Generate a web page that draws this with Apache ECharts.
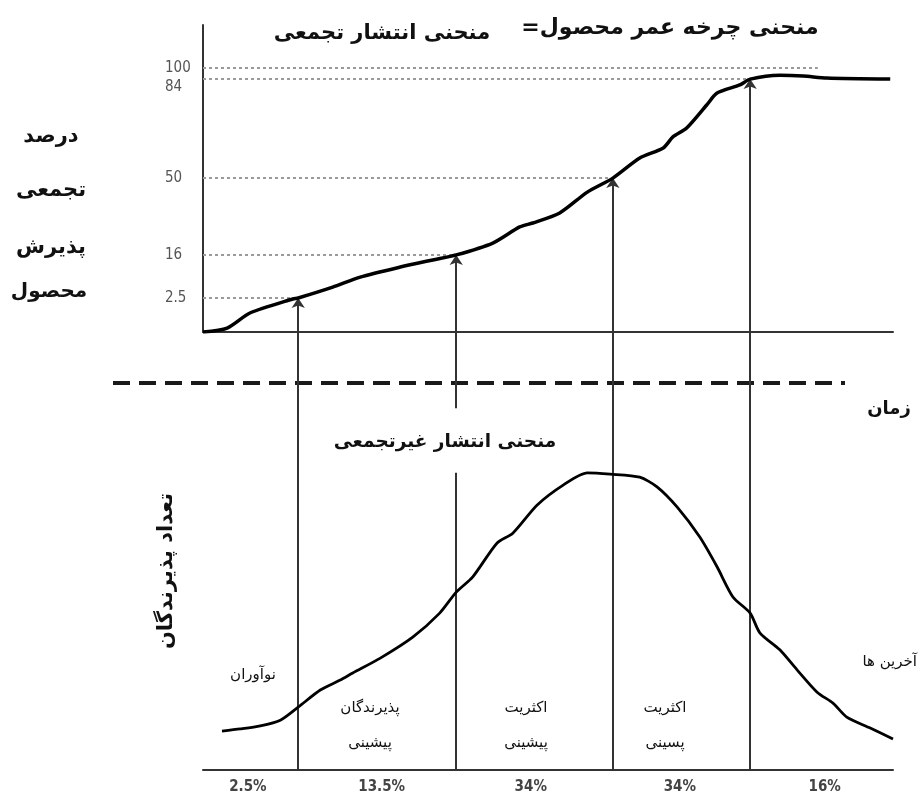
<!DOCTYPE html>
<html><head><meta charset="utf-8">
<script src="https://cdn.jsdelivr.net/npm/echarts@6/dist/echarts.min.js"></script>
<style>html,body{margin:0;padding:0;background:#fff}#c{width:918px;height:798px}</style>
</head><body><div id="c"></div>
<script>
// ---- data (time in arbitrary units 0..100) ----
const cumTime  = [0,3.5,6.8,13.0,13.8,18.8,22.8,28.6,33.3,36.7,42.0,45.9,47.8,51.7,55.7,59.4,63.3,66.7,68.1,70.1,73.0,74.5,77.8,79.3,83.6,87.0,90.4,99.6];
const cumLevel = [0,1.5,7.2,12.5,12.9,17.0,20.8,24.6,27.3,29.2,33.7,39.8,41.3,45.1,53.0,58.3,65.9,69.7,73.9,77.3,86.0,90.5,93.6,95.8,97.3,97.0,96.2,95.8];

const bellTime  = [2.75,5.4,8.3,11.2,13.8,17.0,19.9,21.7,25.7,30.4,34.3,36.7,39.1,42.6,44.9,48.4,52.2,55.7,59.0,63.3,65.8,68.7,72.0,74.5,76.8,79.3,80.7,83.6,86.1,89.0,91.3,93.3,96.7,100];
const bellCount = [8.9,9.4,10.1,11.4,14.4,18.3,20.6,22.2,25.6,30.4,35.9,40.7,44.2,51.9,54.2,60.6,65.2,68.0,67.7,67.0,64.8,60.2,53.3,46.5,39.6,35.9,31.4,27.5,22.9,17.8,15.3,12.1,9.6,7.1];

const pctLabels = ['2.5','16','50','84','100'];
const pctLevels = [12.9, 29.2, 58.3, 95.8, 100];
const boundaries = [13.8, 36.7, 59.4, 79.3];
const topLineEnd = 89.1;

const groupShares = ['2.5%','13.5%','34%','34%','16%'];
const shareLabelAt = [6.5, 25.9, 47.5, 69.1, 90.1];
const groupNames = [['نوآوران'],['پذیرندگان','پیشینی'],['اکثریت','پیشینی'],['اکثریت','پسینی'],['آخرین ها']];

const nearest = (arr, v) => { let b = 0; arr.forEach((a,i)=>{ if (Math.abs(a-v) < Math.abs(arr[b]-v)) b = i; }); return b; };

const FA = "'DejaVu Sans', sans-serif";
const NUM = "'Liberation Sans Narrow','DejaVu Sans Condensed','Liberation Sans',sans-serif";
const vStyle = {color:'#333', width:2, type:'solid'};

const dotted = pctLevels.map((lv,i)=>[
  {coord:[0,lv], symbol:'none', lineStyle:{color:'#9a9a9a', width:2, type:[3,3]}},
  {coord:[i<boundaries.length?boundaries[i]:topLineEnd, lv], symbol:'none'}
]);
const arrows = boundaries.map((b,i)=>[
  {coord:[b,0], symbol:'none', lineStyle:vStyle},
  {coord:[b,pctLevels[i]], symbol:'arrow', symbolSize:10}
]);
const lowerLines = [];
boundaries.forEach((b,i)=>{
  if (i===1) {
    lowerLines.push([{coord:[b,0], symbol:'none', lineStyle:vStyle},{coord:[b,68], symbol:'none'}]);
    lowerLines.push([{coord:[b,82.8], symbol:'none', lineStyle:vStyle},{coord:[b,100], symbol:'none'}]);
  } else {
    lowerLines.push([{coord:[b,0], symbol:'none', lineStyle:vStyle},{coord:[b,100], symbol:'none'}]);
  }
});

function txt(x, y, text, font, extra, align) {
  const a = align || 'center';
  return Object.assign({type:'text', x:x, y:y, silent:true,
    style:{text:text, font:font, fill:'#111', align:a, verticalAlign:'middle', textAlign:a, textVerticalAlign:'middle'}}, extra||{});
}
const groupX = [253, 370, 526, 665, 917];
const graphics = [
  txt(670, 28, '\u200Fمنحنی چرخه عمر محصول=\u200F', 'bold 22px ' + FA),
  txt(382, 34, 'منحنی انتشار تجمعی', 'bold 21px ' + FA),
  txt(51, 137, 'درصد', 'bold 21px ' + FA),
  txt(51, 191, 'تجمعی', 'bold 21px ' + FA),
  txt(51, 248, 'پذیرش', 'bold 21px ' + FA),
  txt(49, 292, 'محصول', 'bold 20px ' + FA),
  txt(889, 409, 'زمان', 'bold 18px ' + FA),
  txt(445, 442, 'منحنی انتشار غیرتجمعی', 'bold 18.5px ' + FA),
  txt(167, 571, 'تعداد پذیرندگان', 'bold 21px ' + FA, {rotation: Math.PI/2}),
  {type:'line', silent:true, shape:{x1:113,y1:383,x2:845,y2:383}, style:{stroke:'#1a1a1a', lineWidth:4, lineDash:[17,9]}}
];
groupNames.forEach((lines, i)=>{
  if (lines.length === 1) {
    graphics.push(txt(groupX[i], i===0 ? 675 : 662, lines[0], '15px ' + FA, null, i===4 ? 'right' : 'center'));
  } else {
    graphics.push(txt(groupX[i], 708, lines[0], '15px ' + FA));
    graphics.push(txt(groupX[i], 743, lines[1], '15px ' + FA));
  }
});

const chart = echarts.init(document.getElementById('c'));
chart.setOption({
  animation:false,
  backgroundColor:'#fff',
  grid:[
    {left:203, right:25, top:25, height:307},
    {left:203, right:25, top:333, height:437}
  ],
  xAxis:[
    {gridIndex:0, type:'value', min:0, max:100, axisLine:{show:true, onZero:false, lineStyle:{color:'#333', width:2}}, axisTick:{show:false}, axisLabel:{show:false}, splitLine:{show:false}},
    {gridIndex:1, type:'value', min:0, max:100, axisLine:{show:true, onZero:false, lineStyle:{color:'#333', width:2}}, axisTick:{show:false}, splitLine:{show:false},
      axisLabel:{customValues:shareLabelAt, formatter:(v)=>groupShares[nearest(shareLabelAt, v)], margin:10, color:'#444', fontSize:15, fontWeight:'bold', fontFamily:NUM}}
  ],
  yAxis:[
    {gridIndex:0, type:'value', min:0, max:116.3, axisLine:{show:true, onZero:false, lineStyle:{color:'#333', width:2}}, axisTick:{show:false}, splitLine:{show:false},
      axisLabel:{customValues:pctLevels, align:'left', margin:38, color:'#555', fontSize:15, fontFamily:NUM,
        formatter:(v)=>{ const i = nearest(pctLevels, v); return i===3 ? '{low|' + pctLabels[i] + '}' : pctLabels[i]; },
        rich:{low:{padding:[16,0,0,0], fontSize:15, fontFamily:NUM, color:'#555'}}}},
    {gridIndex:1, type:'value', min:0, max:100, show:false}
  ],
  series:[
    {type:'line', xAxisIndex:0, yAxisIndex:0, data:cumTime.map((t,i)=>[t,cumLevel[i]]), showSymbol:false, smooth:0.25,
      lineStyle:{color:'#000', width:3.5}, z:5,
      markLine:{silent:true, animation:false, symbol:['none','none'], label:{show:false}, emphasis:{disabled:true}, data:dotted.concat(arrows)}},
    {type:'line', xAxisIndex:1, yAxisIndex:1, data:bellTime.map((t,i)=>[t,bellCount[i]]), showSymbol:false, smooth:0.25,
      lineStyle:{color:'#000', width:2.8}, z:5,
      markLine:{silent:true, animation:false, symbol:['none','none'], label:{show:false}, emphasis:{disabled:true}, data:lowerLines}}
  ],
  graphic:graphics
});
</script></body></html>
